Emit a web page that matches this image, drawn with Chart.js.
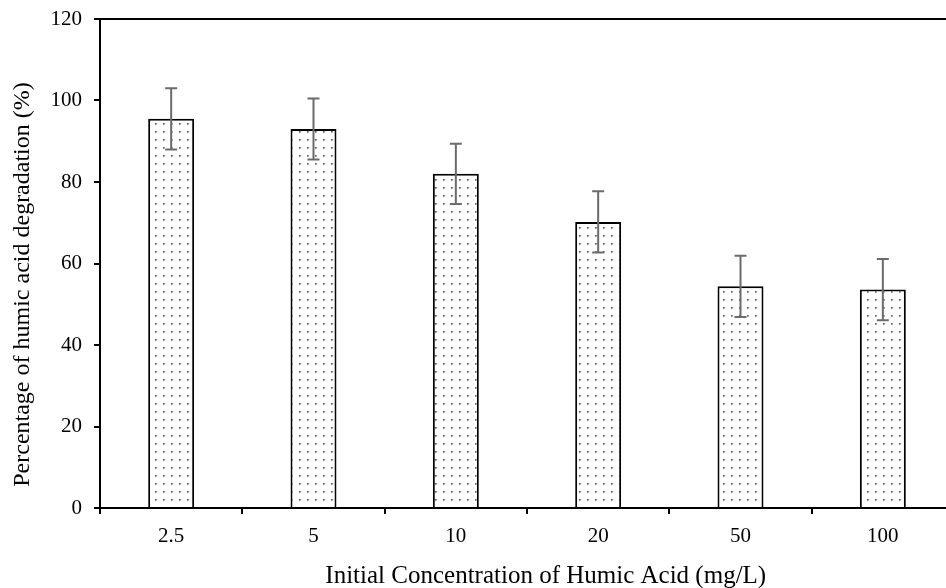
<!DOCTYPE html>
<html>
<head>
<meta charset="utf-8">
<script src="https://cdn.jsdelivr.net/npm/chart.js@4"></script>
<style>
    html, body { margin: 0; padding: 0; background: #fff; overflow: hidden; }
    #wrap { width: 962px; height: 588px; }
</style>
</head>
<body>
<div id="wrap"><canvas id="chart" width="962" height="588"></canvas></div>
<script>
// Data
const concentrations = ['2.5', '5', '10', '20', '50', '100'];
const degradation = [95.5, 93.0, 82.0, 70.2, 54.4, 53.6];
const errors = [7.5, 7.5, 7.4, 7.5, 7.5, 7.5];
const yTicks = [0, 20, 40, 60, 80, 100, 120];

const serif = "'Liberation Serif', 'Times New Roman', serif";

// dotted fill like the original
const makeDots = () => {
    const tile = document.createElement('canvas');
    tile.width = 8;
    tile.height = 8;
    const t = tile.getContext('2d');
    t.fillStyle = '#ffffff';
    t.fillRect(0, 0, 8, 8);
    t.fillStyle = '#666666';
    t.fillRect(3, 3, 1.7, 1.7);
    return t.createPattern(tile, 'repeat');
};

// error bars drawn from the scales
const errorBars = {
    id: 'errorBars',
    afterDatasetsDraw(chart) {
        const { ctx, scales: { x, y } } = chart;
        ctx.save();
        ctx.strokeStyle = '#6b6b6b';
        ctx.lineWidth = 2;
        degradation.forEach((v, i) => {
            const px = x.getPixelForValue(i);
            const top = y.getPixelForValue(v + errors[i]);
            const bot = y.getPixelForValue(v - errors[i]);
            ctx.beginPath();
            ctx.moveTo(px, top);
            ctx.lineTo(px, bot);
            ctx.moveTo(px - 6, top);
            ctx.lineTo(px + 6, top);
            ctx.moveTo(px - 6, bot);
            ctx.lineTo(px + 6, bot);
            ctx.stroke();
        });
        ctx.restore();
    }
};

const ctx = document.getElementById('chart').getContext('2d');
new Chart(ctx, {
    type: 'bar',
    data: {
        labels: concentrations,
        datasets: [{
            data: degradation,
            backgroundColor: makeDots(),
            borderColor: '#000',
            borderWidth: 2,
            borderSkipped: 'bottom',
            barPercentage: 0.323,
            categoryPercentage: 1
        }]
    },
    options: {
        responsive: false,
        animation: false,
        layout: { padding: { top: 19, right: 8, left: 0, bottom: 0 } },
        plugins: {
            legend: { display: false },
            tooltip: { enabled: false }
        },
        scales: {
            x: {
                grid: { drawOnChartArea: false, color: '#000', lineWidth: 2, tickLength: 6 },
                border: { color: '#000', width: 2 },
                ticks: { color: '#000', font: { family: serif, size: 21 }, padding: 10 },
                title: {
                    display: true,
                    // leading spaces nudge the title right like the original
                    text: '      Initial Concentration of Humic Acid (mg/L)',
                    color: '#000',
                    font: { family: serif, size: 25 },
                    padding: { top: 0, bottom: -3 }
                },
                afterFit: (scale) => { scale.height = 80; }
            },
            y: {
                min: 0,
                max: 120,
                afterBuildTicks: (scale) => { scale.ticks = yTicks.map(v => ({ value: v })); },
                grid: {
                    color: (c) => (c.tick && c.tick.value === 120 ? '#000' : 'rgba(0,0,0,0)'),
                    tickColor: '#000',
                    lineWidth: 2,
                    tickLength: 6
                },
                border: { color: '#000', width: 2 },
                ticks: { color: '#000', font: { family: serif, size: 21 }, padding: 12 },
                title: {
                    display: true,
                    text: 'Percentage of humic acid degradation (%)       ',
                    color: '#000',
                    font: { family: serif, size: 24 },
                    padding: { top: 8, bottom: 0 }
                },
                afterFit: (scale) => {
                    scale.width = 100;
                    scale.paddingTop = 4;
                    scale.paddingBottom = 4;
                }
            }
        }
    },
    plugins: [errorBars]
});
</script>
</body>
</html>
